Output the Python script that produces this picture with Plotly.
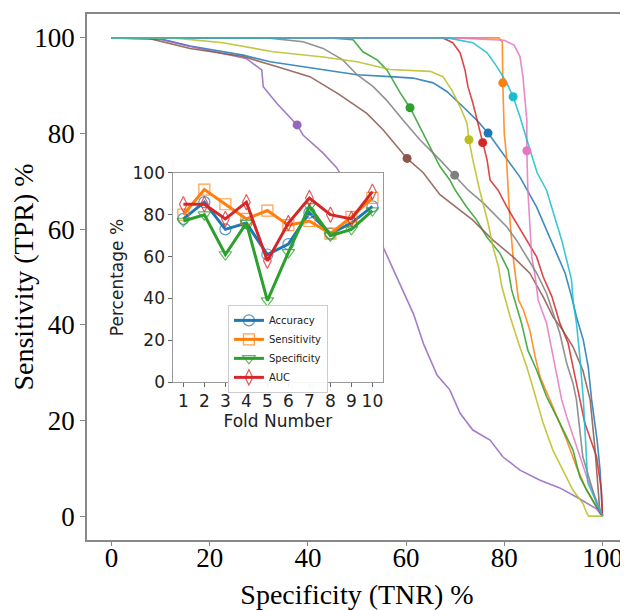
import plotly.graph_objects as go

# ---------------- main ROC curves (Specificity %, Sensitivity %) ----------------
blue_x = [0, 9.9, 16, 26.8, 32.3, 43, 50, 56.7, 61.4, 65.5, 68.3, 71.6, 74.4, 76.7, 79.7, 83.2, 86.6, 88.6, 90.7, 92.4, 93.7, 94.7, 96.1, 97.1, 97.8, 98.9, 99.5, 100]
blue_y = [100, 99.8, 98.3, 96.4, 95, 93.3, 92.3, 91.9, 91.6, 90.6, 88.8, 85.6, 82.8, 80.1, 75.9, 70.9, 64.6, 59.8, 55, 50.8, 45.9, 41.7, 36.8, 31.2, 24.3, 16, 9.8, 0]

orange_x = [0, 78.9, 79.6, 79.7, 80.0, 80.4, 80.8, 81.2, 81.8, 82.5, 82.9, 83.9, 85.2, 86.3, 87.3, 89.3, 90.7, 92.7, 94.7, 96.8, 98.8, 100]
orange_y = [100, 100, 99.2, 90.6, 80, 75.8, 68.2, 61.3, 54.2, 48.7, 45.2, 43.1, 38.9, 33.3, 29.1, 24.3, 20.8, 15.9, 10.3, 5.4, 1.9, 0]

green_x = [0, 44.5, 49.2, 51.2, 54.1, 56.1, 58.8, 60.8, 62.8, 64.9, 66.9, 68.9, 70, 72.3, 74.4, 76.4, 79.1, 80.8, 81.5, 83.5, 84.8, 86.6, 88.6, 91.3, 94, 95.4, 96.8, 98.8, 100]
green_y = [100, 100, 99.6, 97.1, 95.4, 93.3, 88.5, 85.4, 81.4, 77.3, 73.1, 70.3, 68.2, 64.7, 61.9, 58.4, 55, 51.5, 47.3, 40.4, 34.7, 30.5, 25, 19.5, 13.8, 8.2, 5.4, 1.9, 0]

red_x = [0, 67.5, 69.5, 71, 72, 72.6, 73.6, 74.6, 75.6, 76.5, 77.1, 78.7, 80.5, 82.5, 84.6, 86.6, 87.9, 89.7, 91.3, 93, 94, 95.4, 96.4, 98.8, 99.8, 100]
red_y = [100, 100, 99, 96.9, 93.3, 89.8, 86.4, 82.2, 78.1, 74.5, 70.3, 68.2, 64.7, 61.3, 57.7, 54.2, 50.1, 45.9, 40.4, 36.2, 31.2, 24.3, 19.5, 12.4, 5.4, 0]

purple_x = [0, 10, 16, 27.4, 30.6, 30.9, 33.6, 37.8, 39, 43.1, 45.9, 50.5, 55.3, 58.8, 61.5, 63.6, 66.3, 68.9, 71, 73.6, 77.1, 79.7, 83.2, 87.3, 91.3, 94.7, 97.5, 98.8, 100]
purple_y = [100, 99.7, 98.2, 95.7, 93.3, 89.8, 86.4, 81.8, 79.7, 75.9, 72.8, 64.5, 56.3, 48.5, 42.3, 35.9, 29.5, 26.4, 21.5, 18, 15.9, 12.4, 9.6, 7.5, 5.9, 4, 2.3, 1.5, 0]

brown_x = [0, 7.2, 16, 26.8, 33.6, 40.4, 46.2, 52, 55.3, 58.1, 60.2, 63.5, 66.9, 73.6, 77.7, 81.8, 85.2, 87.9, 89.9, 91.9, 94, 96, 97.5, 98.5, 99.5, 100]
brown_y = [100, 100, 97.8, 96.1, 94, 91.9, 88.3, 84.2, 80.8, 77.3, 74.8, 71.8, 67.2, 61.9, 57.7, 54.2, 50.8, 45.9, 41.7, 38.9, 35.4, 30.5, 24.3, 13.8, 0.6, 0]

pink_x = [0, 70, 80, 82, 83.2, 83.8, 84.6, 84.6, 84.8, 85.2, 85.6, 86.3, 86.9, 88.6, 89.7, 90.7, 91.7, 92.7, 94.7, 96.8, 98.8, 100]
pink_y = [100, 100, 99.5, 98.5, 96.1, 91.9, 82.8, 76.4, 68.2, 61.3, 54.2, 50.1, 45.2, 40.4, 34.7, 29.1, 24.3, 20.8, 14.5, 8.2, 3.3, 0]

gray_x = [0, 31.7, 39, 43.1, 47.1, 50, 53.3, 56, 59.4, 62.8, 66.9, 69.9, 72.6, 75.7, 77.7, 80.5, 82.5, 84.6, 86.6, 88.6, 91.3, 92.7, 94, 94.7, 96, 98.8, 100]
gray_y = [100, 100, 99.2, 97.8, 95.4, 92.3, 89.8, 87, 82.8, 78.7, 74.5, 71.3, 68.2, 65.5, 63.4, 60.5, 57.7, 54.2, 50.8, 46.6, 38.3, 32, 27.8, 24.3, 12.4, 2.7, 0]

olive_x = [0, 12.5, 22.7, 32.9, 43.1, 50, 56.7, 64.9, 67.5, 69.3, 71, 72.4, 72.8, 73.6, 74.9, 76.7, 77.7, 78.8, 79.5, 81.2, 82.9, 84.6, 85.8, 87.9, 89.9, 91.9, 94, 96, 96.8, 97.2, 100]
olive_y = [100, 100, 99, 97.1, 96, 95, 93.4, 93, 91.9, 89.1, 85.6, 82.2, 78.7, 74.5, 68.5, 61.3, 56.3, 52.2, 48, 41.7, 36.2, 31.2, 27, 19.5, 13.8, 9.6, 5.4, 2.7, 0.6, 0, 0]

cyan_x = [0, 68.4, 73.6, 76.5, 78.5, 80.5, 81.8, 83.2, 84.6, 86.7, 88.6, 90.3, 91.7, 92.7, 93.7, 94, 94.7, 95.4, 96.1, 96.6, 97, 100]
cyan_y = [100, 100, 99, 96.9, 94, 90.6, 87.7, 83.5, 78.7, 71.8, 68.2, 62.6, 57.7, 53.6, 49.4, 45.2, 40.4, 33.3, 24.3, 15, 7, 0]

# operating points (one per fold)
op_x = [76.7, 79.7, 60.8, 75.6, 37.8, 60.2, 84.6, 69.9, 72.8, 81.8]
op_y = [80.1, 90.6, 85.4, 78.1, 81.8, 74.8, 76.4, 71.3, 78.7, 87.7]

# ---------------- inset: per-fold metrics ----------------
folds = [1, 2, 3, 4, 5, 6, 7, 8, 9, 10]
accuracy = [78, 86, 73, 76, 61, 66, 81, 71, 76, 84]
sensitivity = [80, 92, 85, 78, 82, 75, 77, 71, 79, 88]
specificity = [77, 80, 61, 76, 39, 62, 84, 70, 73, 82]
auc = [85, 85, 78, 86, 58, 76, 88, 80, 78, 91]

tab10 = ["#1f77b4", "#ff7f0e", "#2ca02c", "#d62728", "#9467bd",
         "#8c564b", "#e377c2", "#7f7f7f", "#bcbd22", "#17becf"]

curves = [(blue_x, blue_y), (orange_x, orange_y), (green_x, green_y), (red_x, red_y),
          (purple_x, purple_y), (brown_x, brown_y), (pink_x, pink_y), (gray_x, gray_y),
          (olive_x, olive_y), (cyan_x, cyan_y)]

fig = go.Figure()
for i, (cx, cy) in enumerate(curves):
    fig.add_trace(go.Scatter(x=cx, y=cy, mode="lines",
                             line=dict(color=tab10[i], width=1.6),
                             opacity=0.85, showlegend=False, hoverinfo="skip",
                             xaxis="x", yaxis="y"))
for i in range(len(op_x)):
    fig.add_trace(go.Scatter(x=[op_x[i]], y=[op_y[i]], mode="markers",
                             marker=dict(color=tab10[i], size=9),
                             showlegend=False, xaxis="x", yaxis="y"))

metrics = [("Accuracy", accuracy, tab10[0], "circle-open"),
           ("Sensitivity", sensitivity, tab10[1], "square-open"),
           ("Specificity", specificity, tab10[2], "triangle-down-open"),
           ("AUC", auc, tab10[3], "diamond-tall-open")]
for name, vals, col, sym in metrics:
    fig.add_trace(go.Scatter(x=folds, y=vals, mode="lines+markers", name=name,
                             line=dict(color=col, width=3),
                             marker=dict(symbol=sym, size=11, color=col,
                                         line=dict(width=1.2, color=col), opacity=0.75),
                             xaxis="x2", yaxis="y2"))

serif = "Liberation Serif, Times New Roman, serif"
sans = "DejaVu Sans, sans-serif"

# the page adds an 8px body margin, so the figure is 8px smaller than the window
fig.update_layout(
    width=620, height=602,
    margin=dict(l=79, r=1, t=6, b=70),
    paper_bgcolor="white", plot_bgcolor="white",
    xaxis=dict(range=[-5, 105], tickvals=[0, 20, 40, 60, 80, 100],
               ticks="outside", ticklen=4, tickcolor="#888", tickwidth=1,
               showline=True, linecolor="#888", linewidth=1.5, mirror=True,
               showgrid=False, zeroline=False, automargin=False,
               ticklabelstandoff=-11,
               tickfont=dict(family=serif, size=27, color="black"),
               title=dict(text="Specificity (TNR) %", standoff=19,
                          font=dict(family=serif, size=28, color="black"))),
    yaxis=dict(range=[-5, 105], tickvals=[0, 20, 40, 60, 80, 100],
               ticks="outside", ticklen=5, tickcolor="#888", tickwidth=1,
               showline=True, linecolor="#888", linewidth=1.5, mirror=True,
               showgrid=False, zeroline=False, automargin=False,
               tickfont=dict(family=serif, size=27, color="black"),
               title=dict(text="Sensitivity (TPR) %", standoff=0,
                          font=dict(family=serif, size=28, color="black"))),
    xaxis2=dict(domain=[0.159, 0.548], anchor="y2", range=[0.5, 10.5],
                tickvals=folds, ticks="outside", ticklen=3.5, tickcolor="#666",
                showline=True, linecolor="#999", linewidth=1, mirror=True,
                showgrid=False, zeroline=False, automargin=False,
                tickfont=dict(family=sans, size=17, color="#222"),
                title=dict(text="Fold Number", standoff=2,
                           font=dict(family=sans, size=17, color="#222"))),
    yaxis2=dict(domain=[0.300, 0.698], anchor="x2", range=[0, 100],
                tickvals=[0, 20, 40, 60, 80, 100], ticks="outside", ticklen=3.5,
                tickcolor="#666", showline=True, linecolor="#999", linewidth=1,
                mirror=True, showgrid=False, zeroline=False, automargin=False,
                tickfont=dict(family=sans, size=17, color="#222"),
                title=dict(text="Percentage %", standoff=4,
                           font=dict(family=sans, size=17, color="#222"))),
    legend=dict(x=0.261, y=0.447, xanchor="left", yanchor="top",
                bgcolor="rgba(255,255,255,0.9)", bordercolor="#ccc", borderwidth=1,
                font=dict(family=sans, size=10, color="#222"),
                tracegroupgap=0, itemwidth=30),
    showlegend=True,
)

fig.write_html("out.html")
